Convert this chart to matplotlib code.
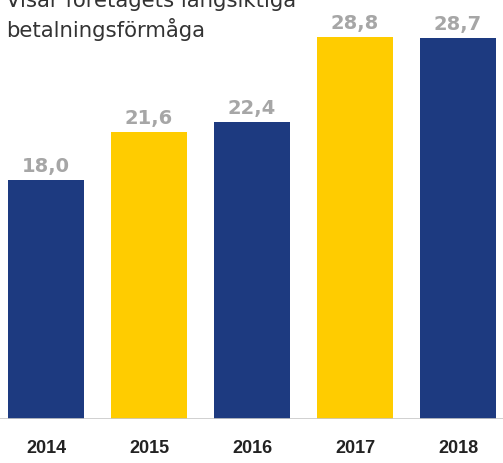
import matplotlib
matplotlib.use("Agg")
import matplotlib.pyplot as plt

years = ["2014", "2015", "2016", "2017", "2018"]
values = [18.0, 21.6, 22.4, 28.8, 28.7]
colors = ["#1d3a80", "#ffcc00", "#1d3a80", "#ffcc00", "#1d3a80"]

W, H = 503, 464
fig = plt.figure(figsize=(W / 100, H / 100), dpi=100)
# axes placed in pixel terms: baseline at 419.5 px from top
ax = fig.add_axes([0, 44.5 / H, 1, 419.5 / H])

x = list(range(len(years)))
ax.bar(x, values, width=0.738, color=colors, zorder=2)
ax.set_xlim(-46 / 103, (W - 46) / 103)
ax.set_ylim(0, 419.5 / 13.25)
ax.axhline(0, color="#c8c8c8", lw=1.2, zorder=3)

for xi, v in zip(x, values):
    ax.annotate(f"{v:.1f}".replace(".", ","), (xi, v), xytext=(0, 3.5),
                textcoords="offset points", ha="center", va="bottom",
                fontsize=14, fontweight="bold", color="#a6a6a6",
                family="DejaVu Sans")

ax.set_xticks(x)
ax.set_xticklabels(years, fontsize=13, fontweight="bold", color="#222222",
                   family="Liberation Sans")
ax.tick_params(axis="x", length=0, pad=15)
ax.set_yticks([])
for s in ax.spines.values():
    s.set_visible(False)

fig.text(6 / W, 1 - 7 / H, "Visar företagets långsiktiga", fontsize=15.3,
         color="#333333", va="baseline", family="DejaVu Sans")
fig.text(6 / W, 1 - 37 / H, "betalningsförmåga", fontsize=15.3,
         color="#333333", va="baseline", family="DejaVu Sans")

fig.savefig("out.png", dpi=100)
